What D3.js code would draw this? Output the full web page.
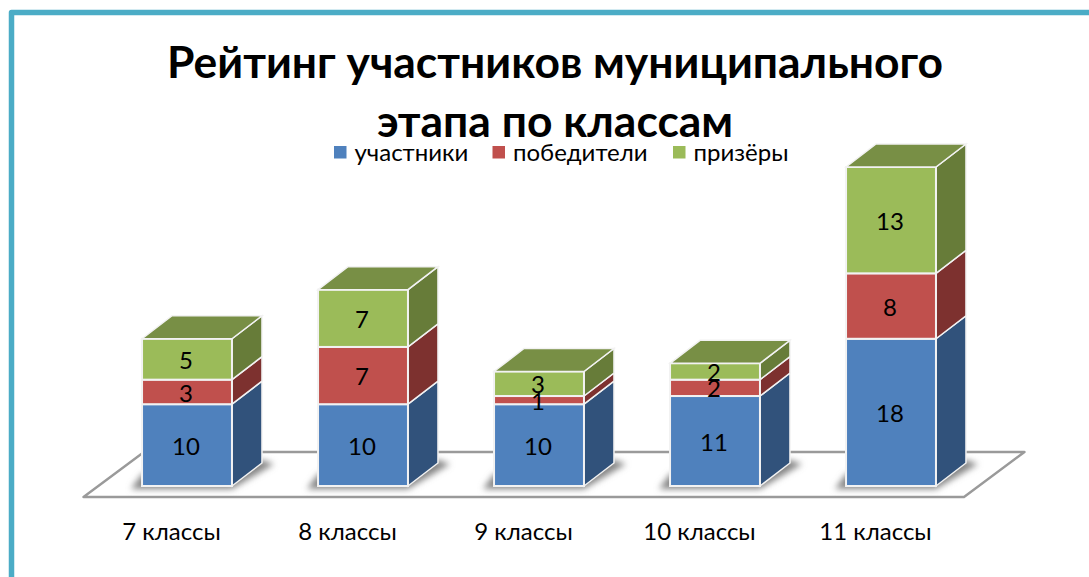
<!DOCTYPE html>
<html><head><meta charset="utf-8">
<script src="https://cdn.jsdelivr.net/npm/d3@7"></script>
<style>html,body{margin:0;padding:0;background:#fff;overflow:hidden}svg{display:block}text{font-family:Lato,sans-serif;fill:#000}</style>
</head><body><svg id="c" width="1089" height="577"></svg>
<script>
const categories = ["7 классы","8 классы","9 классы","10 классы","11 классы"];
const seriesNames = ["участники","победители","призёры"];
const participants = [10,10,10,11,18];
const winners = [3,7,1,2,8];
const prizewinners = [5,7,3,2,13];
const frontColors = ["#4f81bd","#c0504d","#9bbb59"];
const sideColors = ["#31527b","#7d312f","#677c39"];
const topColor = "#788f45";
const titleLines = ["Рейтинг участников муниципального","этапа по классам"];

const svg = d3.select("#c");
const defs = svg.append("defs");
defs.append("filter").attr("id","blur").attr("x","-30%").attr("y","-100%").attr("width","160%").attr("height","300%")
  .append("feGaussianBlur").attr("stdDeviation",3);

svg.append("path").attr("d","M1089,12.5 H11.5 V577").attr("fill","none").attr("stroke","#4bacc6").attr("stroke-width",5.5).attr("stroke-linejoin","round");

const x = d3.scaleBand().domain(categories).range([99,979]).paddingInner(0.489).paddingOuter(0.2445);
const y = d3.scaleLinear().domain([0,39]).range([486,167]);
const dx = 30, dy = -23;
const rows = categories.map((c,i)=>{
  const vals=[participants[i],winners[i],prizewinners[i]];
  let acc=0;
  return {c,segs:vals.map((v,s)=>{const r={v,s,y0:acc,y1:acc+v};acc+=v;return r;}),total:acc};
});

svg.append("path")
  .attr("d",`M83.5,497 H964 L1024.5,452 H144 Z`)
  .attr("fill","#fff").attr("stroke","#9a9a9a").attr("stroke-width",2.4).attr("stroke-linejoin","round");

const g = svg.selectAll("g.col").data(rows).join("g").attr("class","col");
g.append("path").attr("filter","url(#blur)").attr("fill","#858585")
  .attr("d",d=>{const l=x(d.c),w=x.bandwidth(),b=y(0);
    return `M${l-11},${b+3} L${l+w},${b+3} L${l+w+dx+12},${b+dy+1} L${l+w+dx},${b+dy-3} L${l},${b-12} Z`;});

const line="#f2f2f2";
g.each(function(d){
  const s=d3.select(this), l=x(d.c), w=x.bandwidth();
  d.segs.forEach(q=>{
    s.append("path").attr("fill",sideColors[q.s]).attr("stroke",line).attr("stroke-width",1.5)
      .attr("d",`M${l+w},${y(q.y0)} l${dx},${dy} V${y(q.y1)+dy} l${-dx},${-dy} Z`);
    s.append("rect").attr("x",l).attr("y",y(q.y1)).attr("width",w).attr("height",y(q.y0)-y(q.y1))
      .attr("fill",frontColors[q.s]).attr("stroke",line).attr("stroke-width",2);
  });
  s.append("path").attr("fill",topColor).attr("stroke",line).attr("stroke-width",1.5)
    .attr("d",`M${l},${y(d.total)} l${dx},${dy} h${w} l${-dx},${-dy} Z`);
  d.segs.forEach(q=>{
    s.append("text").attr("x",l+w/2-1).attr("y",(y(q.y0)+y(q.y1))/2+1).attr("dy","0.36em")
      .attr("text-anchor","middle").attr("font-size",24).text(q.v);
  });
});

svg.selectAll("text.cat").data(categories).join("text").attr("class","cat")
  .attr("x",c=>x(c)+x.bandwidth()/2-15.5).attr("y",540).attr("text-anchor","middle").attr("font-size",24).text(c=>c);

svg.selectAll("text.title").data(titleLines).join("text").attr("class","title")
  .attr("x",555).attr("y",(d,i)=>77.5+i*59.5).attr("text-anchor","middle")
  .attr("font-size",44.4).attr("font-weight",700).text(d=>d);

const legendX=[334,492.5,673];
const lg=svg.selectAll("g.lg").data(seriesNames).join("g").attr("class","lg").attr("transform",(d,i)=>`translate(${legendX[i]},146)`);
lg.append("rect").attr("width",12.5).attr("height",12.5).attr("fill",(d,i)=>frontColors[i]);
lg.append("text").attr("x",20.5).attr("y",14.5).attr("font-size",24).text(d=>d);
</script></body></html>
